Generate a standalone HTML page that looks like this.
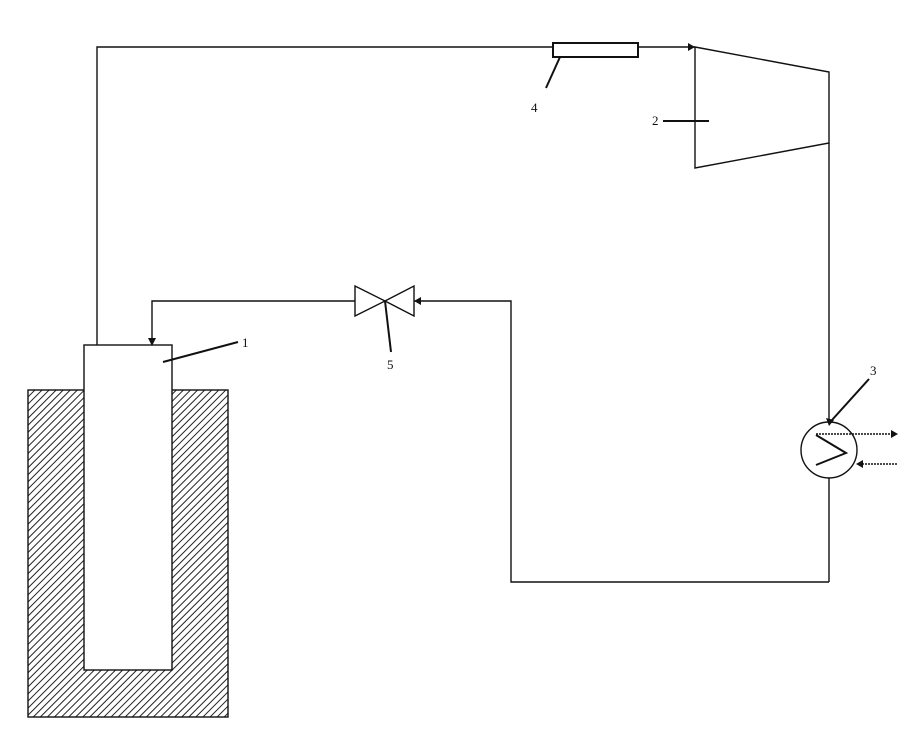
<!DOCTYPE html>
<html><head><style>body{margin:0;background:#fff}svg{display:block}</style></head><body>
<svg width="920" height="745" viewBox="0 0 920 745" xmlns="http://www.w3.org/2000/svg">
<defs>
<pattern id="h" patternUnits="userSpaceOnUse" width="5" height="5" patternTransform="rotate(45)">
<rect width="5" height="5" fill="#fff"/><line x1="0" y1="0" x2="0" y2="5" stroke="#222" stroke-width="2"/>
</pattern>
</defs>
<g fill="none" stroke="#111" stroke-width="1.4">
<rect x="28" y="390" width="200" height="327" fill="url(#h)" stroke="#111"/>
<rect x="84" y="345" width="88" height="325" fill="#fff"/>
<polyline points="97,345 97,47 695,47"/>
<rect x="553" y="43" width="85" height="14" fill="#fff" stroke-width="2"/>
<polygon points="695,47 829,72 829,143 695,168"/>
<line x1="829" y1="143" x2="829" y2="422"/>
<line x1="829" y1="478" x2="829" y2="582"/>
<polyline points="829,582 511,582 511,301 414,301"/>
<polyline points="355,301 152,301 152,340"/>
<polygon points="355,286 355,316 385,301"/>
<polygon points="414,286 414,316 385,301"/>
<circle cx="829" cy="450" r="28"/>
<polyline points="816,435 846,453 816,465" stroke-width="2"/>
<line x1="816" y1="434" x2="892" y2="434" stroke-dasharray="2,1"/>
<line x1="862" y1="464" x2="898" y2="464" stroke-dasharray="2,1"/>
<line x1="385" y1="301" x2="391" y2="352" stroke-width="2"/>
<line x1="163" y1="362" x2="238" y2="342" stroke-width="2"/>
<line x1="663" y1="121" x2="709" y2="121" stroke-width="2"/>
<line x1="546" y1="88" x2="560" y2="57" stroke-width="2"/>
<line x1="869" y1="379" x2="832" y2="420" stroke-width="2"/>
</g>
<g fill="#111">
<polygon points="695,47 688,43 688,51"/>
<polygon points="152,346 148,338 156,338"/>
<polygon points="414,301 421,297 421,305"/>
<polygon points="829,426 826,418 834,420"/>
<polygon points="898,434 891,430 891,438"/>
<polygon points="856,464 863,460 863,468"/>
</g>
<g font-family="Liberation Serif, serif" font-size="13" fill="#111">
<text x="242" y="347">1</text>
<text x="652" y="125">2</text>
<text x="870" y="375">3</text>
<text x="531" y="112">4</text>
<text x="387" y="369">5</text>
</g>
</svg>
</body></html>
